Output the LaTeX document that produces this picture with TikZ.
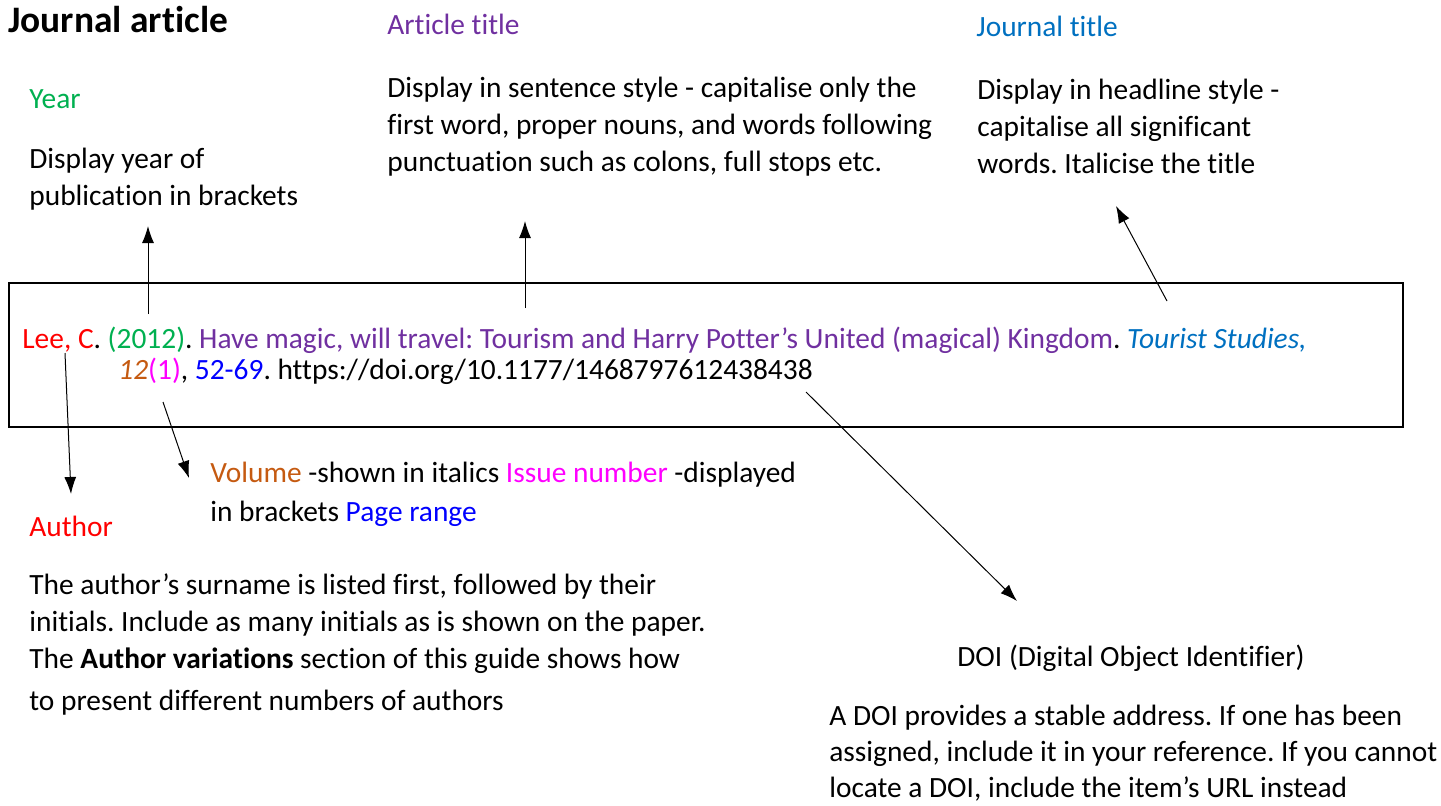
\documentclass[tikz,border=0pt]{standalone}
\usepackage{fontspec}
\setmainfont{Carlito}[Ligatures=NoCommon]
\usetikzlibrary{arrows.meta}
\definecolor{cyear}{HTML}{00B050}
\definecolor{cart}{HTML}{7030A0}
\definecolor{cjour}{HTML}{0070C0}
\definecolor{cauth}{HTML}{FF0000}
\definecolor{cvol}{HTML}{C55A11}
\definecolor{ciss}{HTML}{FF00FF}
\definecolor{cpage}{HTML}{0000FF}
\newcommand\txtsz{\fontsize{14.7}{18}\selectfont}
\frenchspacing
\begin{document}
\frenchspacing
\begin{tikzpicture}[x=0.5pt,y=-0.5pt,
  lbl/.style={anchor=base west, inner sep=0pt, font=\txtsz},
  refbox/.style={draw, line width=1.2pt, minimum width=697pt, minimum height=72pt, inner sep=0pt},
  pointer/.style={line width=0.5pt, -{Latex[length=8.5pt,width=6pt]}}]
\useasboundingbox (0,0) rectangle (1441,805);
% title
\node[lbl, font=\fontsize{18.7}{22}\selectfont\bfseries] (title) at (8,32) {Journal article};
% year
\node[lbl, text=cyear] (yearh) at (29,108) {Year};
\node[lbl] (yeard1) at (29,168) {Display year of};
\node[lbl] (yeard2) at (29,205) {publication in brackets};
% article title
\node[lbl, text=cart] (arth) at (387,34) {Article title};
\node[lbl] (artd1) at (387,97) {Display in sentence style - capitalise only the};
\node[lbl] (artd2) at (387,134) {first word, proper nouns, and words following};
\node[lbl] (artd3) at (387,171) {punctuation such as colons, full stops etc.};
% journal title
\node[lbl, text=cjour] (jourh) at (976,36) {Journal title};
\node[lbl] (jourd1) at (977,99) {Display in headline style -};
\node[lbl] (jourd2) at (977,136) {capitalise all significant};
\node[lbl] (jourd3) at (977,173) {words. Italicise the title};
% reference box
\node[refbox] (box) at (706,355) {};
\node[lbl] (ref1) at (22,348) {\textcolor{cauth}{Lee, C}. \textcolor{cyear}{(2012)}. \textcolor{cart}{Have magic, will travel: Tourism and Harry Potter’s United (magical) Kingdom}. \textcolor{cjour}{\itshape Tourist Studies,}};
\node[lbl] (ref2) at (118,379) {\textcolor{cvol}{\itshape 12}\textcolor{ciss}{(1)}, \textcolor{cpage}{52-69}. https://doi.org/10.1177/1468797612438438};
% volume / issue / pages
\node[lbl] (vol1) at (210,482) {\textcolor{cvol}{Volume} -shown in italics \textcolor{ciss}{Issue number} -displayed};
\node[lbl] (vol2) at (210,521) {in brackets \textcolor{cpage}{Page range}};
% author
\node[lbl, text=cauth] (authh) at (29,536) {Author};
\node[lbl] (authd1) at (29,594) {The author’s surname is listed first, followed by their};
\node[lbl] (authd2) at (29,631) {initials. Include as many initials as is shown on the paper.};
\node[lbl] (authd3) at (29,668) {The \textbf{Author variations} section of this guide shows how};
\node[lbl] (authd4) at (29,710) {to present different numbers of authors};
% DOI
\node[lbl] (doih) at (957,666) {DOI (Digital Object Identifier)};
\node[lbl] (doid1) at (829,725) {A DOI provides a stable address. If one has been};
\node[lbl] (doid2) at (829,761) {assigned, include it in your reference. If you cannot};
\node[lbl] (doid3) at (829,797) {locate a DOI, include the item’s URL instead};
% connector ends
\coordinate (yearfoot) at (148,314);
\coordinate (yeartip) at (148,226);
\coordinate (artfoot) at (525,308);
\coordinate (arttip) at (525,221);
\coordinate (jourfoot) at (1167,301);
\coordinate (jourtip) at (1116,206);
\coordinate (authfoot) at (65,353);
\coordinate (authtip) at (71,494);
\coordinate (volfoot) at (163,402);
\coordinate (voltip) at (189,478);
\coordinate (doifoot) at (806,392);
\coordinate (doitip) at (1017,601);
\draw[pointer] (yearfoot) -- (yeartip);
\draw[pointer] (artfoot) -- (arttip);
\draw[pointer] (jourfoot) -- (jourtip);
\draw[pointer] (authfoot) -- (authtip);
\draw[pointer] (volfoot) -- (voltip);
\draw[pointer] (doifoot) -- (doitip);
\end{tikzpicture}
\end{document}
